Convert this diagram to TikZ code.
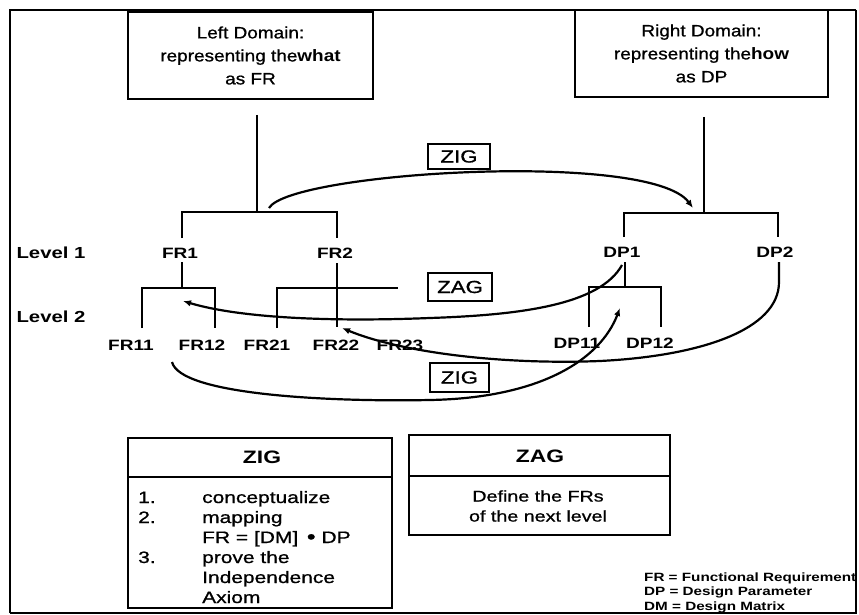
\documentclass[tikz,border=0pt]{standalone}
\usepackage{fontspec}
\setmainfont{Liberation Sans}[FakeStretch=1.27,UprightFeatures={FakeBold=0.9}]
\newfontfamily\domf{Liberation Sans}[FakeStretch=1.15,UprightFeatures={FakeBold=0.9}]
\usetikzlibrary{arrows.meta}
\begin{document}
\begin{tikzpicture}[x=1pt,y=-1pt,
  tree/.style={line width=2.4pt},
  curv/.style={line width=2.2pt},
  tip/.style={-{Latex[length=8pt,width=6.5pt]}},
  box/.style={draw,line width=2.4pt,inner sep=0pt},
  smallbox/.style={draw,line width=2pt,inner sep=0pt,font=\fontsize{17.5}{20}\selectfont},
  dombox/.style={box,align=center,minimum height=87pt,font=\domf\fontsize{16.5}{23}\selectfont},
  lbl/.style={inner sep=0pt,font=\fontsize{15}{18}\selectfont\bfseries},
  lvl/.style={inner sep=0pt,font=\fontsize{16}{18}\selectfont\bfseries},
  hdr/.style={inner sep=0pt,font=\fontsize{18}{20}\selectfont\bfseries},
  item/.style={inner sep=0pt,anchor=base west,font=\fontsize{16.5}{20}\selectfont},
  legend/.style={inner sep=0pt,anchor=base west,font=\fontsize{12}{14}\selectfont\bfseries}]

\useasboundingbox (0,0) rectangle (859,615);
\fill[white] (0,0) rectangle (859,615);

% frame
\coordinate (fTL) at (10,10);
\coordinate (fTR) at (856,10);
\coordinate (fBR) at (856,613);
\coordinate (fBL) at (10,613);
\draw[line width=2.5pt] (fBL) -- (fTL) -- (fTR);
\draw[line width=1.2pt] (fTR) -- (fBR) -- (fBL);

% domain boxes
\node[dombox,minimum width=245pt] (ld) at (250.5,55.5) {Left Domain:\\representing the\textbf{what}\\as FR};
\node[dombox,minimum width=253pt] (rd) at (701.5,53.5) {Right Domain:\\representing the\textbf{how}\\as DP};

% level labels
\node[lvl] (lev1) at (51,253) {Level 1};
\node[lvl] (lev2) at (51,317) {Level 2};

% tree labels
\node[lbl] (fr1) at (180,253) {FR1};
\node[lbl] (fr2) at (335,253) {FR2};
\node[lbl] (dp1) at (622,252) {DP1};
\node[lbl] (dp2) at (775,252) {DP2};
\node[lbl] (fr11) at (131,345) {FR11};
\node[lbl] (fr12) at (202,345) {FR12};
\node[lbl] (fr21) at (267,345) {FR21};
\node[lbl] (fr22) at (336,345) {FR22};
\node[lbl] (fr23) at (400,345) {FR23};
\node[lbl] (dp11) at (577,343) {DP11};
\node[lbl] (dp12) at (650,343) {DP12};

% left tree
\coordinate (lA) at (257,115);
\coordinate (lB) at (257,212);
\draw[tree] (lA) -- (lB);
\coordinate (b1l) at (182,238);
\coordinate (b1r) at (337,238);
\draw[tree] (b1l) -- ++(0,-26) -| (b1r);
\coordinate (fr1s) at (182,262);
\coordinate (fr1b) at (182,288);
\draw[tree] (fr1s) -- (fr1b);
\coordinate (b11l) at (142,328);
\coordinate (b11r) at (215,328);
\draw[tree] (b11l) -- ++(0,-40) -| (b11r);
\coordinate (fr2s) at (337,263);
\coordinate (fr2b) at (337,327);
\draw[tree] (fr2s) -- (fr2b);
\coordinate (b21l) at (277,328);
\coordinate (b21r) at (398,288);
\draw[tree] (b21l) |- (b21r);

% right tree
\coordinate (rA) at (704,117);
\coordinate (rB) at (704,212);
\draw[tree] (rA) -- (rB);
\coordinate (b2l) at (624,237);
\coordinate (b2r) at (778,237);
\draw[tree] (b2l) -- ++(0,-24) -| (b2r);
\coordinate (dp1s) at (625,262);
\coordinate (dp1b) at (625,287);
\draw[tree] (dp1s) -- (dp1b);
\coordinate (b12l) at (589,327);
\coordinate (b12r) at (661,327);
\draw[tree] (b12l) -- ++(0,-40) -| (b12r);

% small labels
\node[smallbox,minimum width=62pt,minimum height=25pt] (zigtop) at (459,156.5) {ZIG};
\node[smallbox,minimum width=64pt,minimum height=28pt] (zagmid) at (460,287) {ZAG};
\node[smallbox,minimum width=59pt,minimum height=29pt] (zigmid) at (459.5,377.5) {ZIG};

% curves
\coordinate (zigA) at (269,208);
\coordinate (zigB) at (693,208);
\draw[curv,tip] (zigA) .. controls (290,172) and (650,150) .. (zigB);

\coordinate (zagA) at (622,265);
\coordinate (zagB) at (183,301);
\draw[curv,tip] (zagA) .. controls (600,305) and (520,315) .. (430,318)
  .. controls (330,322) and (240,318) .. (zagB);

\coordinate (dp2A) at (779,262);
\coordinate (fr22B) at (342,328);
\draw[curv,tip] (dp2A) -- (779,282) .. controls (779,330) and (700,356) .. (600,361)
  .. controls (500,365) and (400,352) .. (fr22B);

\coordinate (zig2A) at (172,362);
\coordinate (zig2B) at (620,308);
\draw[curv,tip] (zig2A) .. controls (180,395) and (330,402) .. (430,400)
  .. controls (540,398) and (600,360) .. (zig2B);

% ZIG explanation box
\node[box,minimum width=264pt,minimum height=170pt] (zigbox) at (260,523) {};
\coordinate (zigdl) at (128,477);
\coordinate (zigdr) at (392,477);
\draw[line width=2pt] (zigdl) -- (zigdr);
\node[hdr] (zighdr) at (262,457) {ZIG};
\node[item] (n1) at (138,503) {1.};
\node[item] (t1) at (202,503) {conceptualize};
\node[item] (n2) at (138,523) {2.};
\node[item] (t2) at (202,523) {mapping};
\node[item] (t2b) at (202,543) {FR = [DM] \,\raisebox{-0.5pt}{\fontsize{20}{20}\selectfont•} DP};
\node[item] (n3) at (138,563) {3.};
\node[item] (t3) at (202,563) {prove the};
\node[item] (t3b) at (202,583) {Independence};
\node[item] (t3c) at (202,603) {Axiom};

% ZAG explanation box
\node[box,minimum width=261pt,minimum height=100pt] (zagbox) at (539.5,485) {};
\coordinate (zagdl) at (409,476);
\coordinate (zagdr) at (670,476);
\draw[line width=2pt] (zagdl) -- (zagdr);
\node[hdr] (zaghdr) at (540,456) {ZAG};
\node[inner sep=0pt,align=center,font=\fontsize{15.5}{20}\selectfont] (zagtxt) at (538,506) {Define the FRs\\of the next level};

% legend
\node[legend] (lg1) at (644,581) {FR = Functional Requirement};
\node[legend] (lg2) at (644,595) {DP = Design Parameter};
\node[legend] (lg3) at (644,610) {DM = Design Matrix};
\end{tikzpicture}
\end{document}
